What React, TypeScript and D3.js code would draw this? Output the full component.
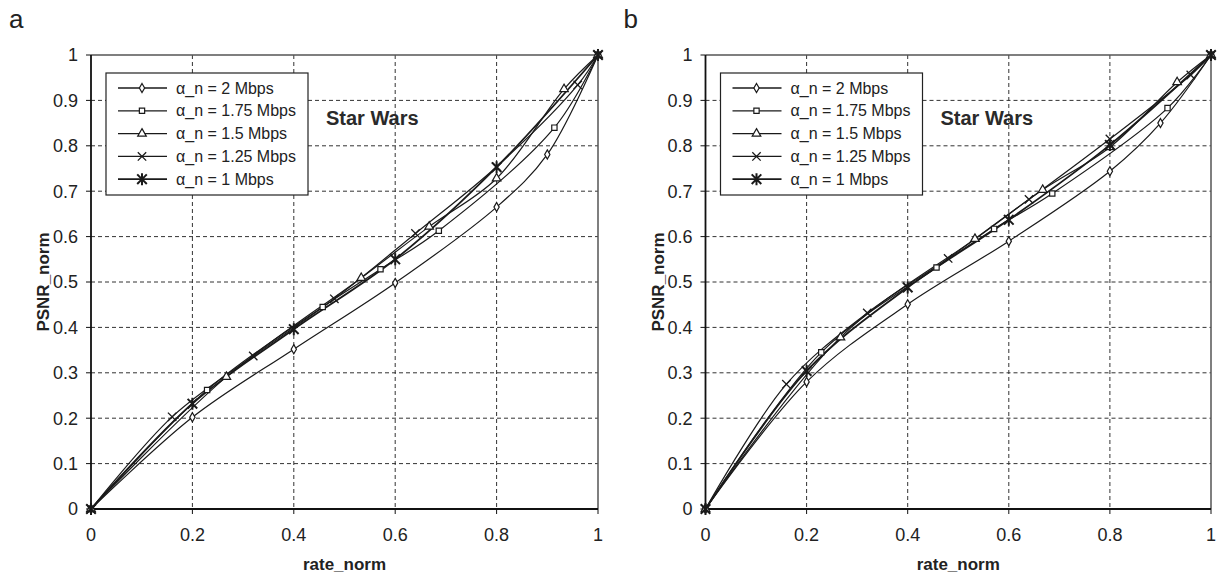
import React, { useRef, useEffect } from "react";
import * as d3 from "d3";

// series labels (alpha_n rates)
const seriesNames = ["α_n = 2 Mbps", "α_n = 1.75 Mbps", "α_n = 1.5 Mbps", "α_n = 1.25 Mbps", "α_n = 1 Mbps"];
const markerTypes = ["diamond", "square", "triangle", "times", "asterisk"];

// normalized rate per series (x values)
const rate2 = [0, 0.2, 0.4, 0.6, 0.8, 0.9, 1];
const rate175 = [0, 0.229, 0.457, 0.571, 0.686, 0.914, 1];
const rate15 = [0, 0.267, 0.533, 0.667, 0.8, 0.933, 1];
const rate125 = [0, 0.16, 0.32, 0.48, 0.64, 0.8, 0.96, 1];
const rate1 = [0, 0.2, 0.4, 0.6, 0.8, 1];

// panel a: normalized PSNR
const psnrA2 = [0, 0.202, 0.352, 0.498, 0.665, 0.781, 1];
const psnrA175 = [0, 0.262, 0.445, 0.528, 0.613, 0.84, 1];
const psnrA15 = [0, 0.291, 0.509, 0.622, 0.728, 0.925, 1];
const psnrA125 = [0, 0.203, 0.337, 0.463, 0.607, 0.754, 0.934, 1];
const psnrA1 = [0, 0.232, 0.396, 0.55, 0.753, 1];

// panel b: normalized PSNR
const psnrB2 = [0, 0.28, 0.451, 0.59, 0.744, 0.85, 1];
const psnrB175 = [0, 0.345, 0.532, 0.617, 0.695, 0.883, 1];
const psnrB15 = [0, 0.378, 0.595, 0.703, 0.797, 0.94, 1];
const psnrB125 = [0, 0.275, 0.432, 0.552, 0.682, 0.815, 0.956, 1];
const psnrB1 = [0, 0.304, 0.488, 0.637, 0.802, 1];

const ticks = [0, 0.1, 0.2, 0.3, 0.4, 0.5, 0.6, 0.7, 0.8, 0.9, 1];
const xTicks = [0, 0.2, 0.4, 0.6, 0.8, 1];

const rates = [rate2, rate175, rate15, rate125, rate1];
const panels = [
  { label: "a", left: 91, right: 598, ys: [psnrA2, psnrA175, psnrA15, psnrA125, psnrA1] },
  { label: "b", left: 705.5, right: 1211, ys: [psnrB2, psnrB175, psnrB15, psnrB125, psnrB1] },
];

const FONT = "Arial, 'Liberation Sans', sans-serif";

function drawMarker(g, type, x, y) {
  const col = "#1a1a1a";
  if (type === "diamond") {
    g.append("path").attr("d", d3.symbol(d3.symbolDiamond, 24)()).attr("transform", `translate(${x},${y})`)
      .attr("fill", "#fff").attr("stroke", col).attr("stroke-width", 1.2);
  } else if (type === "square") {
    g.append("path").attr("d", d3.symbol(d3.symbolSquare, 28)()).attr("transform", `translate(${x},${y})`)
      .attr("fill", "#fff").attr("stroke", col).attr("stroke-width", 1.2);
  } else if (type === "triangle") {
    g.append("path").attr("d", d3.symbol(d3.symbolTriangle, 32)()).attr("transform", `translate(${x},${y})`)
      .attr("fill", "#fff").attr("stroke", col).attr("stroke-width", 1.2);
  } else if (type === "times") {
    const r = 4.2;
    g.append("path").attr("d", `M${x - r},${y - r}L${x + r},${y + r}M${x - r},${y + r}L${x + r},${y - r}`)
      .attr("stroke", col).attr("stroke-width", 1.3);
  } else {
    const r = 6;
    const s = r * 0.8;
    g.append("path")
      .attr("d", `M${x - s},${y - s}L${x + s},${y + s}M${x - s},${y + s}L${x + s},${y - s}M${x},${y - r}L${x},${y + r}`)
      .attr("stroke", col).attr("stroke-width", 2);
  }
}

export default function App() {
  const svgRef = useRef(null);

  useEffect(() => {
    const svg = d3.select(svgRef.current);
    svg.selectAll("*").remove();
    const top = 55, bottom = 509;

    panels.forEach((p) => {
      const x = d3.scaleLinear().domain([0, 1]).range([p.left, p.right]);
      const y = d3.scaleLinear().domain([0, 1]).range([bottom, top]);
      const g = svg.append("g");

      // panel letter
      g.append("text").attr("x", p.left - 82).attr("y", 28).attr("font-size", 26)
        .attr("font-family", FONT).attr("fill", "#222").text(p.label);

      // grid
      ticks.slice(1, -1).forEach((t) => {
        g.append("line").attr("x1", p.left).attr("x2", p.right).attr("y1", y(t)).attr("y2", y(t))
          .attr("stroke", "#333").attr("stroke-width", 1).attr("stroke-dasharray", "4,3");
      });
      xTicks.slice(1, -1).forEach((t) => {
        g.append("line").attr("x1", x(t)).attr("x2", x(t)).attr("y1", top).attr("y2", bottom)
          .attr("stroke", "#333").attr("stroke-width", 1).attr("stroke-dasharray", "4,3");
      });

      // frame
      g.append("path").attr("d", `M${p.left},${top}L${p.right},${top}L${p.right},${bottom}`)
        .attr("fill", "none").attr("stroke", "#555").attr("stroke-width", 1.5);
      g.append("path").attr("d", `M${p.left},${top}L${p.left},${bottom}L${p.right},${bottom}`)
        .attr("fill", "none").attr("stroke", "#111").attr("stroke-width", 1.8);

      // axes ticks + labels
      ticks.forEach((t) => {
        g.append("line").attr("x1", p.left - 5).attr("x2", p.left).attr("y1", y(t)).attr("y2", y(t))
          .attr("stroke", "#111");
        g.append("text").attr("x", p.left - 13).attr("y", y(t)).attr("dy", "0.35em")
          .attr("text-anchor", "end").attr("font-size", 18).attr("font-family", FONT).attr("fill", "#222")
          .text(d3.format("")(t));
      });
      xTicks.forEach((t) => {
        g.append("line").attr("x1", x(t)).attr("x2", x(t)).attr("y1", bottom).attr("y2", bottom + 5)
          .attr("stroke", "#111");
        g.append("text").attr("x", x(t)).attr("y", bottom + 32)
          .attr("text-anchor", "middle").attr("font-size", 18).attr("font-family", FONT).attr("fill", "#222")
          .text(d3.format("")(t));
      });

      // axis titles
      g.append("text").attr("x", (p.left + p.right) / 2).attr("y", 570)
        .attr("text-anchor", "middle").attr("font-size", 17).attr("font-weight", "bold")
        .attr("font-family", FONT).attr("fill", "#222").text("rate_norm");
      g.append("text").attr("transform", `translate(${p.left - 42},${(top + bottom) / 2}) rotate(-90)`)
        .attr("text-anchor", "middle").attr("font-size", 17).attr("font-weight", "bold")
        .attr("font-family", FONT).attr("fill", "#222").text("PSNR_norm");

      // series
      const line = d3.line().x((d) => x(d[0])).y((d) => y(d[1])).curve(d3.curveCatmullRom.alpha(0.5));
      p.ys.forEach((ys, i) => {
        const pts = rates[i].map((r, j) => [r, ys[j]]);
        g.append("path").datum(pts).attr("d", line).attr("fill", "none")
          .attr("stroke", "#1a1a1a").attr("stroke-width", i === 4 ? 1.8 : 1.2);
      });
      p.ys.forEach((ys, i) => {
        rates[i].forEach((r, j) => drawMarker(g, markerTypes[i], x(r), y(ys[j])));
      });

      // title
      g.append("text").attr("x", p.left + 235).attr("y", 125).attr("font-size", 20).attr("font-weight", "bold")
        .attr("font-family", FONT).attr("fill", "#2a2a2a").text("Star Wars");

      // legend
      const lx = p.left + 15, ly = 73;
      g.append("rect").attr("x", lx).attr("y", ly).attr("width", 202).attr("height", 122)
        .attr("fill", "#fff").attr("stroke", "#222").attr("stroke-width", 1.2);
      seriesNames.forEach((name, i) => {
        const ry = ly + 15 + i * 22.8;
        g.append("line").attr("x1", lx + 12).attr("x2", lx + 61).attr("y1", ry).attr("y2", ry)
          .attr("stroke", "#1a1a1a").attr("stroke-width", i === 4 ? 1.8 : 1.3);
        drawMarker(g, markerTypes[i], lx + 36, ry);
        g.append("text").attr("x", lx + 70).attr("y", ry).attr("dy", "0.35em").attr("font-size", 16)
          .attr("font-family", FONT).attr("fill", "#222").text(name);
      });
    });
  }, []);

  return (
    <svg ref={svgRef} width={1222} height={576}
      style={{ position: "absolute", left: 0, top: 0, background: "#fff" }} />
  );
}
